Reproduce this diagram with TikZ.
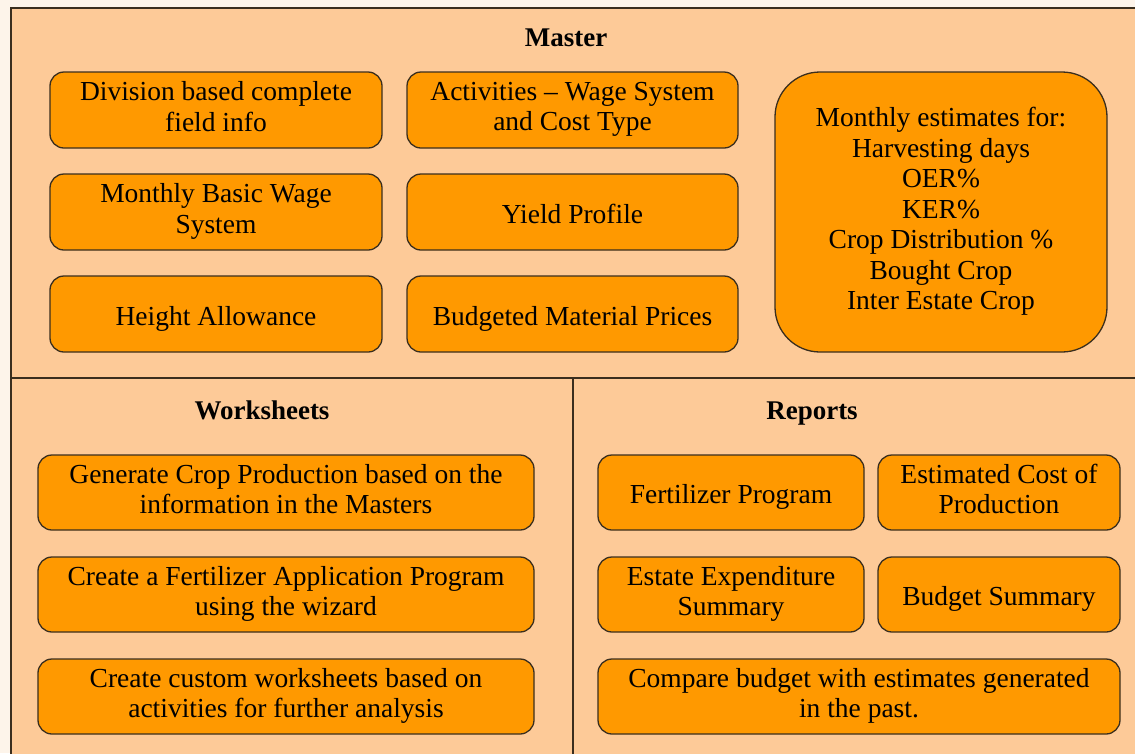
\documentclass[tikz,border=0pt]{standalone}
\usepackage{fontspec}
\setmainfont{Liberation Serif}
\definecolor{outerbg}{HTML}{FDF4EA}
\definecolor{panel}{HTML}{FDCA98}
\definecolor{boxfill}{HTML}{FF9900}
\definecolor{edge}{HTML}{3A2E1E}
\newcommand{\boxstrut}{\rule[-7pt]{0pt}{36pt}}
\tikzset{
  itembox/.style={draw=edge, line width=1.3pt, fill=boxfill, rounded corners=14pt,
    align=center, inner sep=0pt, font=\fontsize{27.5}{30.5}\selectfont,
    execute at begin node={\boxstrut}, execute at end node={\boxstrut}},
  paneltitle/.style={font=\fontsize{27}{30}\selectfont\bfseries, inner sep=0pt, anchor=base},
}
\begin{document}
\begin{tikzpicture}[x=1pt,y=-1pt]
\useasboundingbox (0,0) rectangle (1135,753);
\fill[outerbg] (0,0) rectangle (1135,753);
\draw[edge, line width=2pt, fill=panel] (11,8) rectangle (1150,770);
\draw[edge, line width=2pt] (11,378) -- (1150,378);
\draw[edge, line width=2pt] (573,378) -- (573,770);

\node[paneltitle] (tmaster) at (566,46) {Master};
\node[paneltitle] (twork) at (262,419) {Worksheets};
\node[paneltitle] (trep) at (812,419) {Reports};

\node[itembox, minimum width=332pt, minimum height=76pt] (d1) at (216,110) {Division based complete\\field info};
\node[itembox, minimum width=331pt, minimum height=76pt] (a1) at (572.5,110) {Activities -- Wage System\\and Cost Type};
\node[itembox, minimum width=332pt, minimum height=76pt] (m1) at (216,212) {Monthly Basic Wage\\System};
\node[itembox, minimum width=331pt, minimum height=76pt] (y1) at (572.5,212) {Yield Profile};
\node[itembox, minimum width=332pt, minimum height=76pt] (h1) at (216,314) {Height Allowance};
\node[itembox, minimum width=331pt, minimum height=76pt] (b1) at (572.5,314) {Budgeted Material Prices};
\node[itembox, rounded corners=45pt, minimum width=332pt, minimum height=280pt] (big) at (941,212)
  {Monthly estimates for:\\Harvesting days\\OER\%\\KER\%\\Crop Distribution \%\\Bought Crop\\Inter Estate Crop};

\node[itembox, minimum width=496pt, minimum height=75pt] (w1) at (286,492.5) {Generate Crop Production based on the\\information in the Masters};
\node[itembox, minimum width=496pt, minimum height=75pt] (w2) at (286,594.5) {Create a Fertilizer Application Program\\using the wizard};
\node[itembox, minimum width=496pt, minimum height=75pt] (w3) at (286,696.5) {Create custom worksheets based on\\activities for further analysis};

\node[itembox, minimum width=266pt, minimum height=75pt] (r1) at (731,492.5) {Fertilizer Program};
\node[itembox, minimum width=242pt, minimum height=75pt] (r2) at (999,492.5) {Estimated Cost of\\Production};
\node[itembox, minimum width=266pt, minimum height=75pt] (r3) at (731,594.5) {Estate Expenditure\\Summary};
\node[itembox, minimum width=242pt, minimum height=75pt] (r4) at (999,594.5) {Budget Summary};
\node[itembox, minimum width=522pt, minimum height=75pt] (r5) at (859,696.5) {Compare budget with estimates generated\\in the past.};
\end{tikzpicture}
\end{document}
